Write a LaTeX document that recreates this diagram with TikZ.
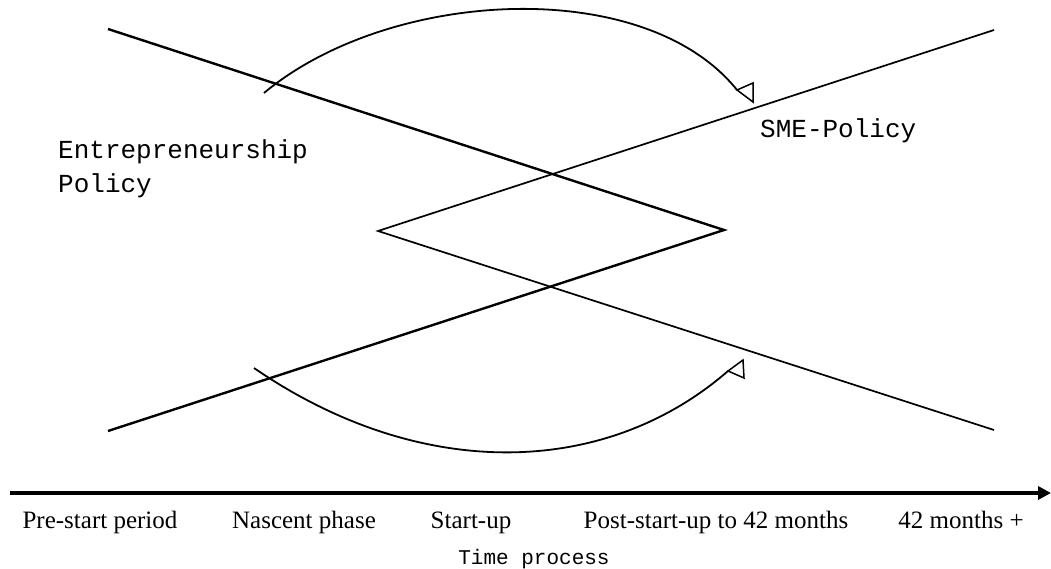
\documentclass[tikz,border=0pt]{standalone}
\usepackage{fontspec}
\setmainfont{Liberation Serif}
\newfontfamily\monofam{Liberation Mono}
\usetikzlibrary{arrows.meta}
\begin{document}
\begin{tikzpicture}[x=1pt,y=-1pt,
  entline/.style={line width=2.4pt,line join=miter},
  smeline/.style={line width=1.7pt,line join=miter},
  arcline/.style={line width=1.8pt},
  openhead/.style={line width=1.5pt,line join=miter},
  axisline/.style={line width=3.5pt,-{Triangle[length=13pt,width=13pt]}},
  phase/.style={font=\fontsize{25}{25}\selectfont,anchor=base,inner sep=0pt},
  policy/.style={font=\monofam\fontsize{26}{26}\selectfont,anchor=base west,inner sep=0pt},
  timelbl/.style={font=\monofam\fontsize{21}{21}\selectfont,anchor=base,inner sep=0pt}]
\useasboundingbox (0,0) rectangle (1051,569);
% entrepreneurship line ( > shape )
\coordinate (eA) at (108,29);
\coordinate (eV) at (724,230);
\coordinate (eB) at (108,431);
% SME line ( < shape )
\coordinate (sA) at (994,30);
\coordinate (sV) at (378,231);
\coordinate (sB) at (994,430);
\draw[entline] (eA) -- (eV) -- (eB);
\draw[smeline] (sA) -- (sV) -- (sB);
% top arc
\coordinate (ta0) at (264,93);
\coordinate (ta1) at (737,90);
\coordinate (tb1) at (753,83);
\coordinate (tb2) at (753,102);
\draw[arcline] (ta0) .. controls (390,-12) and (645,-25) .. (ta1);
\draw[openhead] (ta1) -- (tb1) -- (tb2) -- cycle;
% bottom arc
\coordinate (ba0) at (254,368);
\coordinate (ba1) at (728,371);
\coordinate (bb1) at (743,360);
\coordinate (bb2) at (744,378);
\draw[arcline] (ba0) .. controls (420,482) and (605,478) .. (ba1);
\draw[openhead] (ba1) -- (bb1) -- (bb2) -- cycle;
% time axis
\coordinate (ax0) at (10,493);
\coordinate (ax1) at (1051,493);
\draw[axisline] (ax0) -- (ax1);
% labels
\node[policy] (ent1) at (58,159) {Entrepreneurship};
\node[policy] (ent2) at (58,193) {Policy};
\node[policy] (sme) at (760,138) {SME-Policy};
\node[phase] (ph1) at (100,528) {Pre-start period};
\node[phase] (ph2) at (304,528) {Nascent phase};
\node[phase] (ph3) at (471,528) {Start-up};
\node[phase] (ph4) at (716,528) {Post-start-up to 42 months};
\node[phase] (ph5) at (961,528) {42 months +};
\node[timelbl] (tp) at (534,564) {Time process};
\end{tikzpicture}
\end{document}
